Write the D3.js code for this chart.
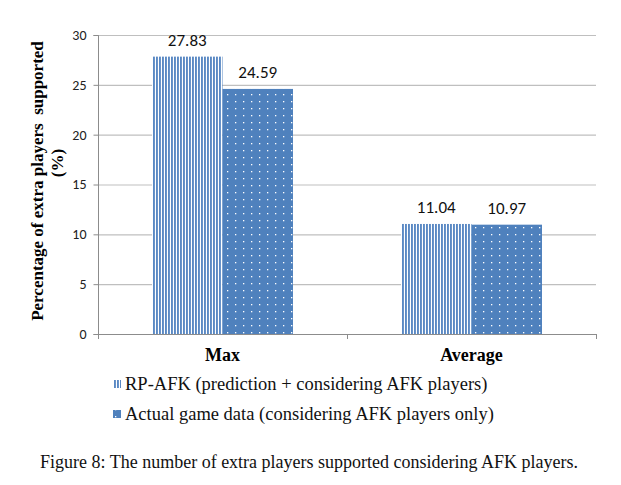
<!DOCTYPE html>
<html><head><meta charset="utf-8">
<script src="https://cdn.jsdelivr.net/npm/d3@7"></script>
<style>body{margin:0;background:#fff}</style>
</head><body>
<svg id="c" width="621" height="485"></svg>
<script>
const categories = ["Max", "Average"];
const seriesNames = ["RP-AFK (prediction + considering AFK players)", "Actual game data (considering AFK players only)"];
const rpAfk = [27.83, 11.04];
const actual = [24.59, 10.97];
const yTicks = [0, 5, 10, 15, 20, 25, 30];
const yTitle = ["Percentage of extra players  supported", "(%)"];
const caption = "Figure 8: The number of extra players supported considering AFK players.";

(function(){
const svg = d3.select("#c");
const defs = svg.append("defs");
const blue = "#4f81bd";
const serif = "'Liberation Serif', 'Times New Roman', Times, serif";
const sans = "Carlito, Lato, 'Liberation Sans', sans-serif";
const ps = defs.append("pattern").attr("id","stripes").attr("patternUnits","userSpaceOnUse").attr("width",3).attr("height",10);
ps.append("rect").attr("width",3).attr("height",10).attr("fill","#fff");
ps.append("rect").attr("width",1.9).attr("height",10).attr("fill","#5a89c4");
const pd = defs.append("pattern").attr("id","dots").attr("patternUnits","userSpaceOnUse").attr("width",8).attr("height",7);
pd.append("rect").attr("width",8).attr("height",7).attr("fill",blue);
pd.append("rect").attr("x",3).attr("y",3).attr("width",1.3).attr("height",1.3).attr("fill","#fff");

const pl = 98, pr = 596, pt = 35, pb = 334;
const x0 = d3.scaleBand().domain(categories).range([pl, pr]).paddingInner(0).paddingOuter(0);
const y = d3.scaleLinear().domain([0, 30]).range([pb, pt]);
const barW = 70.5;
const x1 = d3.scaleBand().domain([0,1]).range([-barW, barW]);

svg.append("g").selectAll("line").data(yTicks.slice(1)).join("line")
  .attr("x1", pl).attr("x2", pr).attr("y1", d=>y(d)+0.5).attr("y2", d=>y(d)+0.5)
  .attr("stroke","#bfbfbf").attr("stroke-width",1.2);

const ya = svg.append("g").attr("transform",`translate(${pl+0.5},0)`)
  .call(d3.axisLeft(y).tickValues(yTicks).tickSize(5).tickPadding(7));
ya.select(".domain").attr("stroke","#8c8c8c").attr("d",`M-5,${y(30)+0.5}H0V${y(0)+0.5}H-5`);
ya.selectAll(".tick line").attr("stroke","#8c8c8c");
ya.selectAll(".tick text").attr("font-family",sans).attr("font-size",14).attr("fill","#222");

const g = svg.append("g");
categories.forEach((c,i)=>{
  const cx = x0(c) + x0.bandwidth()/2;
  [[rpAfk[i],"url(#stripes)"],[actual[i],"url(#dots)"]].forEach(([v,f],j)=>{
    g.append("rect").attr("x", cx + x1(j)).attr("y", y(v)).attr("width", x1.bandwidth()).attr("height", y(0)-y(v)).attr("fill", f);
    g.append("text").attr("x", cx + x1(j) + x1.bandwidth()/2).attr("y", y(v)-11)
      .attr("text-anchor","middle").attr("font-family",sans).attr("font-size",17).attr("fill","#111")
      .text(v.toFixed(2));
  });
});

const xa = svg.append("g");
xa.append("line").attr("x1",pl).attr("x2",pr).attr("y1",pb+0.5).attr("y2",pb+0.5).attr("stroke","#8c8c8c");
[pl, x0("Average"), pr].forEach(t=>{
  xa.append("line").attr("x1",t+0.5).attr("x2",t+0.5).attr("y1",pb).attr("y2",pb+5).attr("stroke","#8c8c8c");
});
xa.selectAll("text").data(categories).join("text")
  .attr("x", d=>x0(d)+x0.bandwidth()/2).attr("y", 361)
  .attr("text-anchor","middle").attr("font-family",serif).attr("font-weight","bold").attr("font-size",18)
  .text(d=>d);

svg.append("text").attr("transform","translate(43,181) rotate(-90)")
  .attr("font-family",serif).attr("font-weight","bold").attr("font-size",17).attr("text-anchor","middle")
  .style("white-space","pre")
  .text(yTitle[0]);
svg.append("text").attr("transform","translate(63,163) rotate(-90)")
  .attr("font-family",serif).attr("font-weight","bold").attr("font-size",17).attr("text-anchor","middle")
  .text(yTitle[1]);

const lg = svg.append("g");
seriesNames.forEach((n,i)=>{
  const yy = 384 + i*30;
  lg.append("rect").attr("x",113).attr("y",yy-4).attr("width",8).attr("height",8).attr("fill", i===0 ? "url(#stripes)" : "url(#dots)");
  lg.append("text").attr("x",125).attr("y",yy+6).attr("font-family",serif).attr("font-size",18.5).attr("fill","#111").text(n);
});

svg.append("text").attr("x",40).attr("y",468).attr("font-family",serif).attr("font-size",18).attr("fill","#111").text(caption);
})();
</script>
</body></html>
